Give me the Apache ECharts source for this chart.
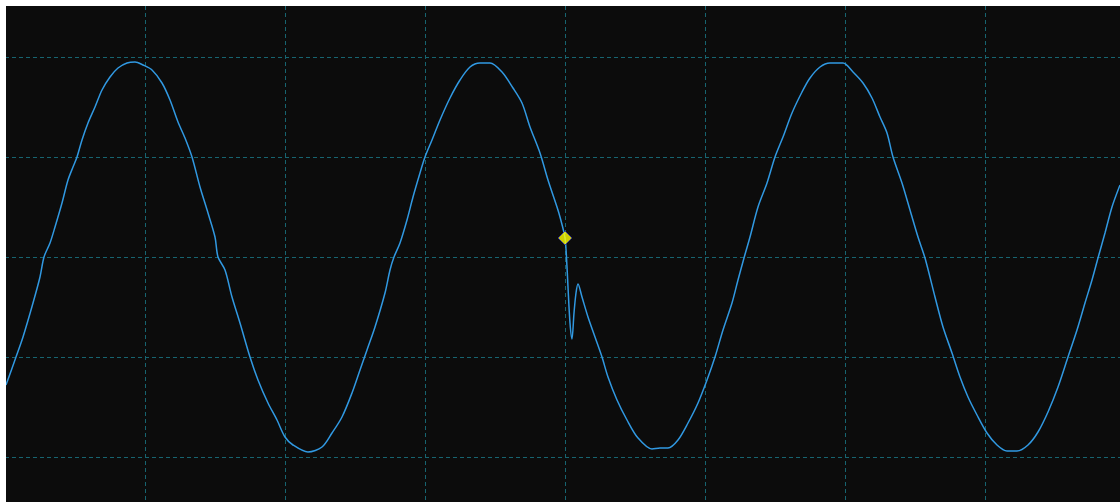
<!DOCTYPE html>
<html>
<head>
<meta charset="utf-8">
<title>Waveform</title>
<script src="https://cdn.jsdelivr.net/npm/echarts@6/dist/echarts.min.js"></script>
<style>
  html, body { margin: 0; padding: 0; background: #ffffff; }
  #scope { position: absolute; left: 6px; top: 6px; width: 1114px; height: 496px; }
</style>
</head>
<body>
<div id="scope"></div>
<script>
// Captured trace: sample index and measured voltage (V)
const sampleIndex = [
  1, 11, 18, 28, 35, 39, 45, 50, 57, 63, 68, 72, 77, 83, 90, 97, 105, 113, 122, 130,
  138, 147, 157, 165, 173, 180, 187, 195, 203, 210, 213, 220, 227, 235, 245, 253, 263, 272, 280, 288,
  303, 317, 327, 337, 347, 355, 362, 370, 380, 385, 389, 395, 402, 408, 415, 420, 427, 435, 445, 455,
  465, 475, 485, 497, 508, 517, 525, 535, 543, 552, 555, 560, 562, 563, 565, 567, 569, 571, 573, 577,
  583, 590, 597, 603, 612, 622, 633, 647, 655, 663, 673, 683, 693, 702, 710, 718, 727, 733, 739, 745,
  753, 762, 770, 778, 787, 797, 805, 815, 825, 838, 848, 858, 867, 875, 882, 888, 897, 905, 913, 920,
  930, 938, 947, 955, 963, 972, 982, 992, 1002, 1012, 1023, 1033, 1043, 1053, 1063, 1072, 1080, 1087, 1093, 1100,
  1107, 1115
];
const voltage = [
  -1.28, -1.00, -0.80, -0.46, -0.20, 0.00, 0.14, 0.30, 0.54, 0.77, 0.90, 1.00, 1.17, 1.34, 1.50, 1.67, 1.80, 1.89, 1.94, 1.95,
  1.92, 1.87, 1.74, 1.57, 1.35, 1.19, 1.00, 0.70, 0.44, 0.20, 0.00, -0.13, -0.40, -0.66, -1.00, -1.23, -1.46, -1.63, -1.80, -1.88,
  -1.95, -1.90, -1.76, -1.60, -1.36, -1.13, -0.93, -0.70, -0.36, -0.13, 0.00, 0.14, 0.37, 0.60, 0.84, 1.00, 1.17, 1.37, 1.59, 1.77,
  1.90, 1.94, 1.94, 1.85, 1.69, 1.54, 1.30, 1.04, 0.77, 0.50, 0.40, 0.19, -0.10, -0.30, -0.66, -0.82, -0.56, -0.36, -0.27, -0.40,
  -0.60, -0.80, -1.00, -1.20, -1.43, -1.63, -1.81, -1.92, -1.91, -1.91, -1.83, -1.66, -1.46, -1.23, -1.00, -0.73, -0.46, -0.23, -0.01, 0.20,
  0.50, 0.74, 1.00, 1.20, 1.44, 1.65, 1.79, 1.90, 1.94, 1.94, 1.85, 1.74, 1.59, 1.40, 1.24, 1.00, 0.74, 0.47, 0.20, -0.01,
  -0.40, -0.70, -0.96, -1.20, -1.40, -1.58, -1.76, -1.88, -1.94, -1.94, -1.88, -1.75, -1.55, -1.30, -1.00, -0.73, -0.46, -0.23, -0.01, 0.24,
  0.50, 0.72
];

// Trigger point
const triggerSample = [560];
const triggerVoltage = [0.19];

// Graticule: 140 samples per horizontal division, 1 V per vertical division
const samplesPerDiv = 140;
const voltsPerDiv = 1;

const trace = sampleIndex.map((s, i) => [s, voltage[i]]);
const trigger = triggerSample.map((s, i) => [s, triggerVoltage[i]]);

function graticule() {
  return {
    show: true,
    showMinLine: false,
    showMaxLine: false,
    lineStyle: { color: '#176470', width: 1, opacity: 1, type: [4, 3] }
  };
}

const chart = echarts.init(document.getElementById('scope'));
chart.setOption({
  backgroundColor: '#0c0c0c',
  animation: false,
  grid: {
    left: -1, top: 0, width: 1115, height: 551,
    containLabel: false,
    outerBoundsMode: 'none'
  },
  xAxis: {
    type: 'value',
    min: 0,
    max: 1115,
    interval: samplesPerDiv,
    axisLine: { show: false },
    axisTick: { show: false },
    axisLabel: { show: false },
    splitLine: graticule()
  },
  yAxis: {
    type: 'value',
    min: -3,
    max: 2.51,
    interval: voltsPerDiv,
    axisLine: { show: false },
    axisTick: { show: false },
    axisLabel: { show: false },
    splitLine: graticule()
  },
  series: [
    {
      name: 'CH1',
      type: 'line',
      data: trace,
      showSymbol: false,
      smooth: 0.3,
      lineStyle: { color: '#3199e2', width: 1.5 },
      z: 2
    },
    {
      name: 'Trigger',
      type: 'scatter',
      data: trigger,
      symbol: 'diamond',
      symbolSize: 14,
      itemStyle: { color: '#ffff00', borderColor: '#2a2aa8', borderWidth: 1 },
      z: 3
    }
  ]
});
</script>
</body>
</html>
